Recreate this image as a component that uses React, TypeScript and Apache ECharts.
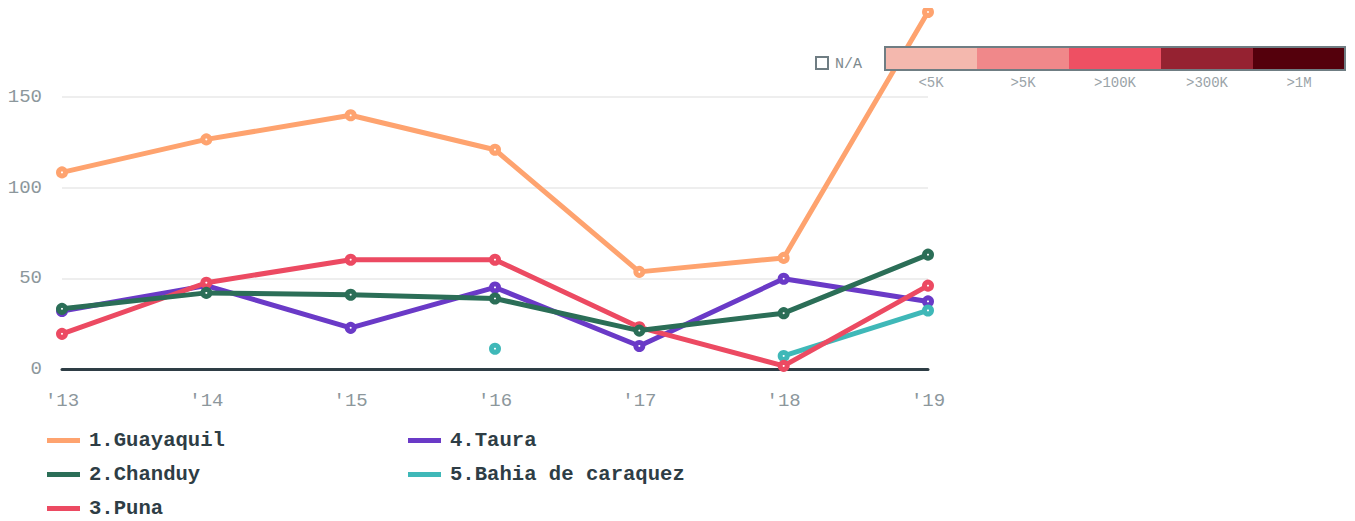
import React, { useEffect, useRef } from "react";
import * as echarts from "echarts";

const years = ["'13", "'14", "'15", "'16", "'17", "'18", "'19"];
const guayaquil = [108.5, 126.7, 140, 121, 53.6, 61.3, 197];
const chanduy = [33.2, 42, 41, 38.9, 21.2, 30.8, 63.1];
const puna = [19.4, 47.6, 60.3, 60.3, 23, 1.7, 46];
const taura = [32, 46, 22.7, 45, 12.7, 49.8, 37.3];
const bahia = [null, null, null, 11.2, null, 7.2, 32.3];

const seriesNames = ["1.Guayaquil", "2.Chanduy", "3.Puna", "4.Taura", "5.Bahia de caraquez"];
const seriesColors = ["#fea36f", "#2b6e57", "#ec4a62", "#6a3ac7", "#3fb8b8"];

const scaleLabels = ["<5K", ">5K", ">100K", ">300K", ">1M"];
const scaleColors = ["#f4b8ae", "#f0888a", "#ee5063", "#952231", "#54000c"];
const naLabel = "N/A";

const FONT = "'Liberation Mono', 'DejaVu Sans Mono', monospace";

export default function App() {
  const ref = useRef<HTMLDivElement>(null);
  useEffect(() => {
    if (!ref.current) return;
    const chart = echarts.init(ref.current, null, { renderer: "svg" });
    const dataMap: Record<string, (number | null)[]> = {
      "1.Guayaquil": guayaquil,
      "2.Chanduy": chanduy,
      "3.Puna": puna,
      "4.Taura": taura,
      "5.Bahia de caraquez": bahia,
    };
    const drawOrder = [0, 3, 4, 2, 1];
    const series = drawOrder.map((i, k) => ({
      name: seriesNames[i],
      type: "line",
      data: dataMap[seriesNames[i]],
      z: 2 + k,
      symbol: "circle",
      symbolSize: 7,
      showSymbol: true,
      showAllSymbol: true,
      connectNulls: false,
      lineStyle: { width: 5, color: seriesColors[i] },
      itemStyle: { color: "#fff", borderColor: seriesColors[i], borderWidth: 5 },
      emphasis: { disabled: true },
    }));

    const boxX = 885, boxY = 47, segW = 92, segH = 23;
    const graphic: any[] = [];
    scaleColors.forEach((c, i) => {
      graphic.push({
        type: "rect",
        shape: { x: boxX + i * segW, y: boxY, width: segW, height: segH },
        style: { fill: c },
        z: 100,
      });
      graphic.push({
        type: "text",
        x: boxX + i * segW + segW / 2,
        y: boxY + segH + 13,
        style: {
          text: scaleLabels[i],
          fill: "#9aa3a8",
          font: `14px ${FONT}`,
          align: "center",
          verticalAlign: "middle",
        },
        z: 100,
      });
    });
    graphic.push({
      type: "rect",
      shape: { x: boxX, y: boxY, width: segW * scaleColors.length, height: segH },
      style: { fill: "none", stroke: "#6f7d83", lineWidth: 2 },
      z: 101,
    });
    graphic.push({
      type: "rect",
      shape: { x: 816, y: 57, width: 12, height: 12 },
      style: { fill: "#fff", stroke: "#6f7d83", lineWidth: 2 },
      z: 100,
    });
    graphic.push({
      type: "text",
      x: 835,
      y: 64,
      style: {
        text: naLabel,
        fill: "#7d898e",
        font: `15px ${FONT}`,
        verticalAlign: "middle",
      },
      z: 100,
    });

    const legendCommon = {
      orient: "vertical",
      icon: "rect",
      itemWidth: 33,
      itemHeight: 5,
      itemGap: 13,
      top: 425,
      height: 92,
      textStyle: {
        fontFamily: FONT,
        fontSize: 20.6,
        lineHeight: 20,
        fontWeight: "bold",
        color: "#2e3d45",
        padding: [0, 0, 0, 4],
      },
      selectedMode: false,
    };
    const legendItem = (i: number) => ({
      name: seriesNames[i],
      itemStyle: { color: seriesColors[i], borderWidth: 0 },
    });

    chart.setOption({
      animation: false,
      backgroundColor: "#fff",
      grid: { left: 62, right: 427, top: 12, bottom: 152 },
      xAxis: {
        type: "category",
        data: years,
        boundaryGap: false,
        axisLine: { show: true, lineStyle: { color: "#2e3d45", width: 3 } },
        axisTick: { show: false },
        axisLabel: { color: "#8c979c", fontFamily: FONT, fontSize: 19, margin: 22 },
        splitLine: { show: false },
      },
      yAxis: {
        type: "value",
        min: 0,
        max: (v: any) => v.max,
        interval: 50,
        axisLine: { show: false },
        axisTick: { show: false },
        axisLabel: {
          color: "#8c979c",
          fontFamily: FONT,
          fontSize: 19,
          margin: 20,
          showMaxLabel: false,
          formatter: (v: number) => (v % 50 === 0 ? String(v) : ""),
        },
        splitLine: { show: true, showMaxLine: false, lineStyle: { color: "#e8e8e8", width: 1.5 } },
      },
      legend: [
        { ...legendCommon, left: 42, data: [0, 1, 2].map(legendItem) },
        { ...legendCommon, left: 403, data: [3, 4].map(legendItem) },
      ],
      series,
      graphic,
    });
    return () => chart.dispose();
  }, []);
  return <div ref={ref} style={{ width: 1355, height: 521, marginTop: -8, marginLeft: -8 }} />;
}
